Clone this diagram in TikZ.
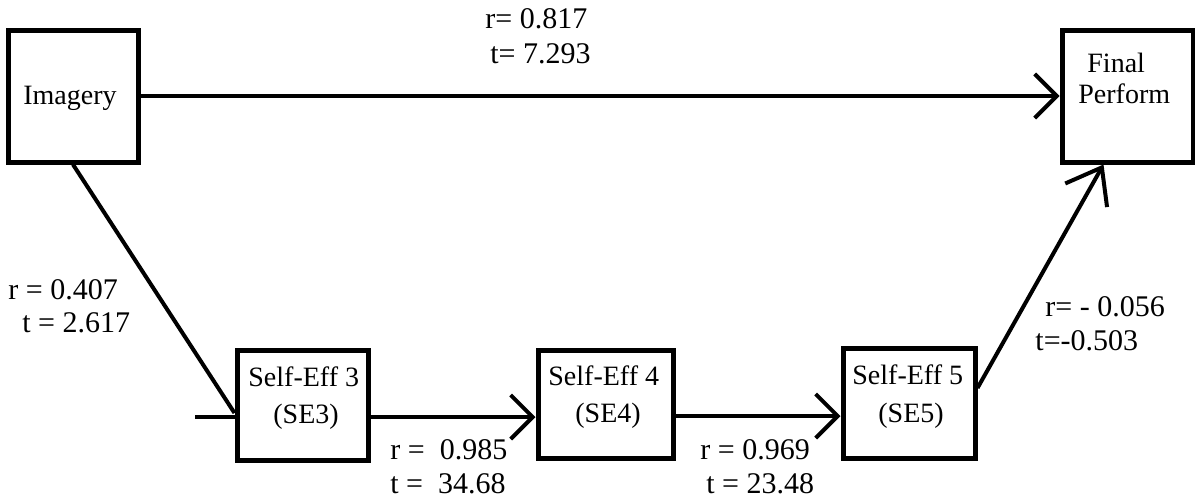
\documentclass[tikz,border=0pt]{standalone}
\usepackage{fontspec}
\setmainfont{Liberation Serif}
\usetikzlibrary{arrows.meta,calc}
\begin{document}
\begin{tikzpicture}[x=0.5pt,y=-0.5pt,
  box/.style={draw,line width=2.5pt,inner sep=0pt},
  lbl/.style={anchor=base west,font=\fontsize{14}{17}\selectfont,inner sep=0pt},
  rt/.style={anchor=base west,font=\fontsize{15}{18}\selectfont,inner sep=0pt},
  txt/.style={anchor=base,font=\fontsize{14}{17}\selectfont,inner sep=0pt},
  conn/.style={line width=2pt},
  tip/.style={-{Straight Barb[length=11pt,width=22pt]}},
  tipd/.style={-{Straight Barb[length=16pt,width=24pt]}}]
\useasboundingbox (0,0) rectangle (1195,499);
% boxes
\node[box,minimum width=65pt,minimum height=66pt] (img) at (73,96) {};
\node[box,minimum width=65.5pt,minimum height=66pt] (fin) at (1127.5,96) {};
\node[box,minimum width=65.5pt,minimum height=55pt] (se3) at (302.5,405) {};
\node[box,minimum width=67.5pt,minimum height=54pt] (se4) at (605.5,404) {};
\node[box,minimum width=66pt,minimum height=55pt] (se5) at (909,403) {};
% box texts
\node[txt] (imgt) at (70,104) {Imagery};
\node[lbl] (fint1) at (1087,72) {Final};
\node[lbl] (fint2) at (1078,103) {Perform};
\node[lbl] (se3t1) at (248,386) {Self-Eff 3};
\node[lbl] (se3t2) at (273,423) {(SE3)};
\node[lbl] (se4t1) at (548,385) {Self-Eff 4};
\node[lbl] (se4t2) at (575,422) {(SE4)};
\node[lbl] (se5t1) at (852,384) {Self-Eff 5};
\node[lbl] (se5t2) at (878,422) {(SE5)};
% path labels
\node[rt] (l1a) at (485,28) {r= 0.817};
\node[rt] (l1b) at (490,63) {t= 7.293};
\node[rt] (l2a) at (8,299) {r = 0.407};
\node[rt] (l2b) at (22,332) {t = 2.617};
\node[rt] (l3a) at (1045,316) {r= - 0.056};
\node[rt] (l3b) at (1035,350) {t=-0.503};
\node[rt] (l4a) at (390,459) {r = \ 0.985};
\node[rt] (l4b) at (390,493) {t = \ 34.68};
\node[rt] (l5a) at (700,459) {r = 0.969};
\node[rt] (l5b) at (706,493) {t = 23.48};
% connectors
\draw[conn,tip] (img.east) -- (fin.west);
\draw[conn] (img.south) -- ($(se3.west)+(0,8)$);
\coordinate (stub) at (195,417);
\draw[conn] (stub) -- ($(se3.west)+(0,12)$);
\draw[conn,tip] ($(se3.east)+(0,12)$) -- ($(se4.west)+(0,13)$);
\draw[conn,tip] ($(se4.east)+(0,12)$) -- ($(se5.west)+(0,13)$);
\draw[conn,tipd] ($(se5.east)+(0,-15)$) -- ($(fin.south)+(-24,0)$);
\end{tikzpicture}
\end{document}
